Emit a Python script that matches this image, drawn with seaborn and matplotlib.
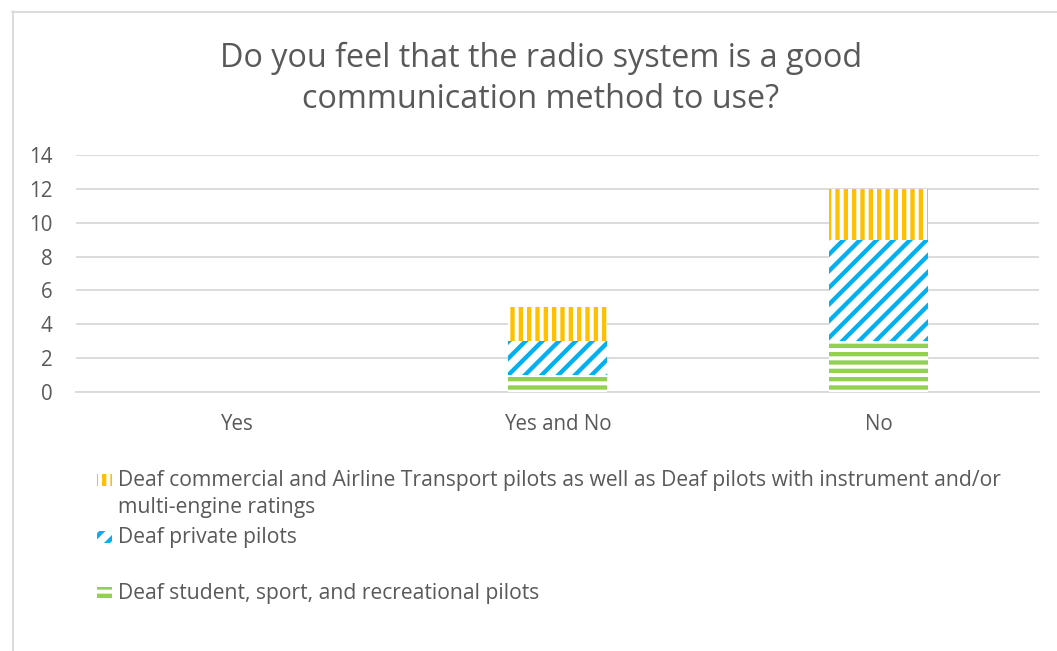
import matplotlib
matplotlib.use("Agg")
import matplotlib.pyplot as plt
import matplotlib.patches as mpatches
import matplotlib.lines as mlines
import seaborn as sns
import pandas as pd

categories = ["Yes", "Yes and No", "No"]
student = [0, 1, 3]
private = [0, 2, 6]
commercial = [0, 2, 3]

labels = [
    "Deaf student, sport, and recreational pilots",
    "Deaf private pilots",
    "Deaf commercial and Airline Transport pilots as well as Deaf pilots with instrument and/or\nmulti-engine ratings",
]
colors = ["#92D050", "#00B0F0", "#FFC000"]
hatches = ["--", "//", "||"]
title = "Do you feel that the radio system is a good\ncommunication method to use?"

sns.set_theme(style="white")
plt.rcParams["font.family"] = ["Open Sans", "DejaVu Sans"]
TXT = "#595959"
GRID = "#D9D9D9"
HLW = 3.1

fig = plt.figure(figsize=(10.57, 6.51), dpi=100)
ax = fig.add_axes([76 / 1057, 1 - 392 / 651, 963 / 1057, 237 / 651])

series = [student, private, commercial]
bottoms = [0, 0, 0]
for vals, col, h in zip(series, colors, hatches):
    df = pd.DataFrame({"cat": categories, "val": vals})
    with plt.rc_context({"hatch.linewidth": HLW}):
        sns.barplot(data=df, x="cat", y="val", order=categories, ax=ax,
                    color=col, saturation=1,
                    width=0.31, facecolor="white", edgecolor=col, linewidth=0,
                    hatch=h, bottom=list(bottoms), zorder=3, errorbar=None)
    bottoms = [b + v for b, v in zip(bottoms, vals)]

ax.set_ylim(0, 14)
ax.set_xlim(-0.5, 2.5)
ax.set_yticks(range(0, 15, 2))
ax.set_xlabel("")
ax.set_ylabel("")
ax.grid(axis="y", color=GRID, linewidth=1.3, zorder=0)
ax.set_axisbelow(True)
for s in ["top", "right", "left"]:
    ax.spines[s].set_visible(False)
ax.spines["bottom"].set_color(GRID)
ax.spines["bottom"].set_linewidth(1.3)
ax.tick_params(axis="y", length=0, pad=17, labelsize=14.8, labelcolor=TXT)
ax.tick_params(axis="x", length=0, pad=16, labelsize=14.8, labelcolor=TXT)

fig.text(541 / 1057, 1 - 79 / 651, title, ha="center", va="center",
         fontsize=23.3, color=TXT, linespacing=1.3)

# legend (drawn manually, top to bottom: commercial, private, student)
W, H = 1057, 651
legend_rows = [(2, 480), (1, 537), (0, 593)]
for idx, yc in legend_rows:
    with plt.rc_context({"hatch.linewidth": HLW}):
        r = mpatches.Rectangle(((97) / W, 1 - (yc + 6) / H), 15 / W, 12 / H,
                               transform=fig.transFigure, facecolor="white",
                               edgecolor=colors[idx], linewidth=0, hatch=hatches[idx])
    fig.add_artist(r)
    if "\n" in labels[idx]:
        fig.text(118 / W, 1 - (yc + 14) / H, labels[idx], ha="left", va="center",
                 fontsize=15.2, color=TXT, linespacing=1.33)
    else:
        fig.text(118 / W, 1 - yc / H, labels[idx], ha="left", va="center",
                 fontsize=15.2, color=TXT)

# chart border (top and left visible)
fig.add_artist(mlines.Line2D([12 / W, 1.0], [1 - 11.5 / H, 1 - 11.5 / H],
                             transform=fig.transFigure, color=GRID, linewidth=1.3))
fig.add_artist(mlines.Line2D([12.5 / W, 12.5 / W], [0, 1 - 11 / H],
                             transform=fig.transFigure, color=GRID, linewidth=1.3))

fig.savefig("out.png", dpi=100, facecolor="white")
